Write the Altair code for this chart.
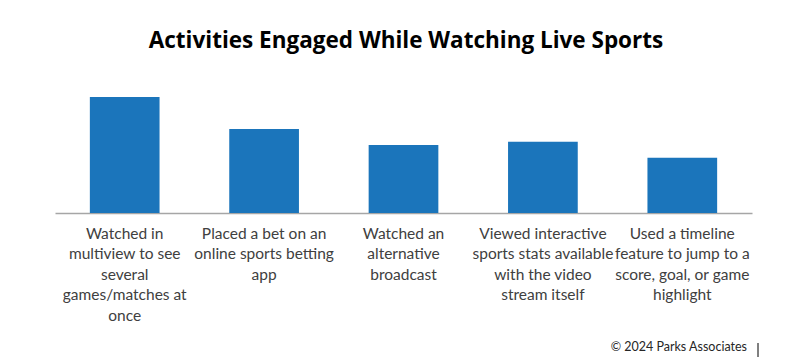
import altair as alt
import pandas as pd

categories = [
    "Watched in|multiview to see|several|games/matches at|once",
    "Placed a bet on an|online sports betting|app",
    "Watched an|alternative|broadcast",
    "Viewed interactive|sports stats available|with the video|stream itself",
    "Used a timeline|feature to jump to a|score, goal, or game|highlight",
]
values = [29, 21, 17, 17.8, 13.8]
title_text = "Activities Engaged While Watching Live Sports"
source_text = "© 2024 Parks Associates"

df = pd.DataFrame({"activity": categories, "value": values})
FONT = "Lato"

bars = alt.Chart(df).mark_bar(color="#1b75bb").encode(
    x=alt.X(
        "activity:N",
        sort=categories,
        title=None,
        scale=alt.Scale(paddingInner=0.5, paddingOuter=0.25),
        axis=alt.Axis(
            labelExpr="split(datum.label, '|')",
            labelAngle=0,
            labelFont=FONT,
            labelFontSize=15.5,
            labelColor="#404040",
            labelLineHeight=20.5,
            labelBaseline="top",
            labelPadding=13,
            labelLimit=0,
            ticks=False,
            domainColor="#a6a6a6",
            domainWidth=1.5,
            labelOverlap=False,
        ),
    ),
    y=alt.Y("value:Q", scale=alt.Scale(domain=[0, 40]), axis=None),
)

meta = pd.DataFrame({"t": [title_text], "s": [source_text]})

title = alt.Chart(meta).mark_text(
    font="Open Sans", fontSize=22.5, fontWeight="bold", color="#000000",
    align="center", baseline="alphabetic",
).encode(text="t:N", x=alt.value(351), y=alt.value(-5))

source = alt.Chart(meta).mark_text(
    font=FONT, fontSize=12.5, color="#262626", align="right", baseline="alphabetic",
).encode(text="s:N", x=alt.value(692), y=alt.value(298))

vline = alt.Chart(meta).mark_rule(color="#000000", strokeWidth=1).encode(
    x=alt.value(703), y=alt.value(290), y2=alt.value(304)
)

chart = alt.layer(bars, title, source, vline).properties(
    width=697,
    height=160,
    autosize=alt.AutoSizeParams(type="none"),
    padding={"left": 47, "top": 45, "right": 32, "bottom": 144},
    background="white",
).configure_view(stroke=None)

chart.save("out.html", embed_options={"renderer": "svg", "actions": False})
